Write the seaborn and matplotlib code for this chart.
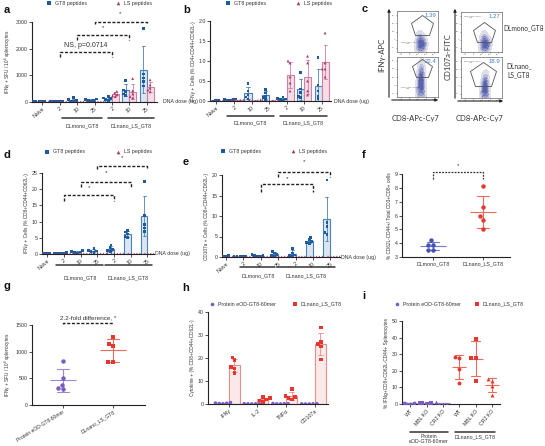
import warnings
import numpy as np
import pandas as pd
import seaborn as sns
import matplotlib.pyplot as plt
from matplotlib.lines import Line2D
from matplotlib.patches import FancyArrowPatch

warnings.filterwarnings("ignore")

# ---------------- data ----------------
dose_keys = ["Naive", "m2", "m10", "m25", "n2", "n10", "n25"]
dose_labels = ["Naive", "2", "10", "25", "2", "10", "25"]
peps = ["GT8 peptides", "LS peptides"]

# a: IFNg SFU / 10^6 splenocytes
a_gt8 = [[10, 20, 15, 5, 25], [20, 30, 15, 25, 10], [160, 90, 60, 40, 30], [110, 90, 70, 50, 40],
         [220, 150, 120, 80, 60], [820, 450, 400, 300, 250], [2750, 1050, 900, 780, 600]]
a_ls = [[5, 10, 0, 8, 12], [5, 3, 8, 2, 6], [10, 5, 3, 8, 6], [5, 3, 10, 2, 8],
        [400, 330, 280, 230, 200], [880, 420, 300, 200, 150], [830, 640, 520, 450, 380]]

# b: IFNg+ % CD4
b_gt8 = [[0.01, 0.0, 0.02, 0.0, 0.01], [0.05, 0.03, 0.02, 0.01, 0.04], [0.44, 0.25, 0.15, 0.1, 0.05],
         [0.28, 0.2, 0.12, 0.08, 0.04], [0.1, 0.07, 0.05, 0.03, 0.02], [0.72, 0.3, 0.22, 0.12, 0.08],
         [1.08, 0.4, 0.25, 0.12, 0.05]]
b_ls = [[0.0, 0.01, 0.0, 0.0, 0.0], [0.04, 0.02, 0.01, 0.0, 0.02], [0.03, 0.02, 0.01, 0.0, 0.0],
        [0.02, 0.01, 0.0, 0.0, 0.0], [1.0, 0.95, 0.6, 0.45, 0.25], [1.12, 0.95, 0.5, 0.25, 0.15],
        [1.7, 0.95, 0.8, 0.6, 0.8]]

# d: IFNg+ % CD8
d_gt8 = [[0.3, 0.2, 0.1, 0.2, 0.1], [0.4, 0.3, 0.2, 0.1, 0.2], [1.0, 0.8, 0.6, 0.4, 0.3],
         [1.6, 1.2, 0.9, 0.7, 0.5], [2.8, 2.0, 1.5, 1.0, 0.8], [7.2, 6.8, 6.2, 5.5, 5.0],
         [22.3, 12.0, 9.0, 8.0, 7.0]]
d_ls = [[0.05, 0.03, 0.02, 0.04, 0.01]] * 7

# e: CD107a+ % CD8
e_gt8 = [[0.4, 0.2, 0.1, 0.1, 0.2], [0.2, 0.1, 0.1, 0.05, 0.1], [0.6, 0.4, 0.3, 0.2, 0.1],
         [1.4, 1.0, 0.6, 0.3, 0.2], [2.1, 1.0, 0.5, 0.3, 0.2], [4.8, 4.2, 3.8, 3.5, 3.3],
         [18.8, 8.5, 7.5, 6.0, 5.5]]
e_ls = [[0.05, 0.03, 0.02, 0.04, 0.01]] * 7

# f: % CD62L-CD44+ / total CD3+CD8+
f_keys = ["DLmono_GT8", "DLnano_LS_GT8"]
f_vals = [[4.2, 3.9, 3.9, 3.5, 3.5], [8.1, 6.6, 5.95, 5.7, 5.05]]

# g: IFNg SFU
g_keys = ["Protein eOD-GT8-60mer", "DLnano_LS_GT8"]
g_vals = [[825, 500, 375, 295, 310], [1280, 1135, 1110, 800, 810]]

# h: cytokine+ % CD8
h_keys = ["IFNγ", "IL-2", "TNFα", "CD107a"]
h_groups = ["Protein eOD-GT8-60mer", "DLnano_LS_GT8"]
h_protein = [[0.6, 0.4, 0.3, 0.2, 0.1], [0.1, 0.05, 0.1, 0.0, 0.05], [0.2, 0.1, 0.1, 0.05, 0.0], [0.1, 0.05, 0.0, 0.0, 0.05]]
h_nano = [[20.3, 19.0, 16.0, 15.5, 13.5], [3.0, 2.5, 2.0, 1.5, 1.0], [6.5, 3.5, 3.0, 2.5, 2.0], [33.2, 27.0, 26.0, 25.0, 19.3]]

# i: % IFNg+ CD8+CD62L-CD44+ splenocytes
i_keys = ["pWT", "pMBL", "pCR2", "nWT", "nMBL", "nCR2"]
i_labels = ["WT", "MBL KO", "CR2 KO"] * 2
i_vals = [[0.6, 0.4, 0.3, 0.2], [0.9, 0.6, 0.4, 0.3], [1.0, 0.3, 0.2, 0.1],
          [28.5, 27.5, 20.9, 12.5], [39.4, 27.9, 27.9, 13.9], [15.1, 14.1, 10.9, 5.6]]

# c: flow cytometry cloud positions (axes fraction) and gate frequencies
c_vals = ["1.39", "22.4", "1.27", "18.9"]
cloud_lo_x = [0.5, 0.54, 0.58, 0.62, 0.66, 0.52, 0.57, 0.63, 0.55, 0.6, 0.53, 0.68, 0.59, 0.64, 0.56, 0.61]
cloud_lo_y = [0.08, 0.12, 0.16, 0.2, 0.14, 0.24, 0.28, 0.1, 0.34, 0.18, 0.2, 0.22, 0.06, 0.26, 0.4, 0.3]
cloud_hi_x = [0.5, 0.54, 0.58, 0.62, 0.66, 0.52, 0.57, 0.63, 0.55, 0.6, 0.58, 0.6, 0.62, 0.57, 0.61, 0.6,
              0.55, 0.64]
cloud_hi_y = [0.08, 0.12, 0.16, 0.2, 0.14, 0.26, 0.3, 0.1, 0.38, 0.46, 0.55, 0.62, 0.7, 0.5, 0.34, 0.22,
              0.6, 0.42]

# ---------------- style ----------------
sns.set_style("ticks")
plt.rcParams["font.family"] = ["Liberation Sans", "DejaVu Sans"]
plt.rcParams["axes.linewidth"] = 0.8
plt.rcParams["axes.edgecolor"] = "#222222"
plt.rcParams["xtick.major.size"] = 2
plt.rcParams["ytick.major.size"] = 2
plt.rcParams["xtick.major.width"] = 0.6
plt.rcParams["ytick.major.width"] = 0.6
plt.rcParams["xtick.major.pad"] = 1
plt.rcParams["ytick.major.pad"] = 1
plt.rcParams["mathtext.default"] = "regular"

GT8_PT, LS_PT = "#1d5a9e", "#a93669"
GT8_FILL, LS_FILL = "#d8e6f4", "#f6dbe6"
GT8_EDGE, LS_EDGE = "#4b80bf", "#d17fa3"
PURPLE, RED = "#7a5cc0", "#e5372f"
TXT = "#333333"
FS = 3.8

W, H = 545, 446
fig = plt.figure(figsize=(W / 100, H / 100), dpi=100)


def rect(l, t, r, b):
    return [l / W, 1 - b / H, (r - l) / W, (b - t) / H]


def ftext(x, y, s, **kw):
    kw.setdefault("fontsize", FS)
    kw.setdefault("color", TXT)
    fig.text(x / W, 1 - y / H, s, **kw)


def fline(x0, x1, y, lw=1.1, color="#333333"):
    fig.add_artist(Line2D([x0 / W, x1 / W], [1 - y / H, 1 - y / H], lw=lw, color=color))


def legend(items, y):
    for x, m, c, label in items:
        fig.add_artist(Line2D([x / W], [1 - y / H], marker=m, color=c, ms=2.6, mew=0, ls="none"))
        ftext(x + 6, y, label, va="center")


def style_axis(ax, ylim, yticks, ylabel, xlim):
    ax.set_ylim(*ylim)
    ax.set_yticks(yticks)
    ax.set_xlim(*xlim)
    ax.set_xlabel("")
    ax.set_ylabel(ylabel, fontsize=3.4, color=TXT, labelpad=2)
    ax.tick_params(labelsize=FS, colors=TXT)
    sns.despine(ax=ax)


def bracket(ax, x0, x1, y, drop, label, ty, lw=1.0, fs=4.5):
    ax.plot([x0, x0, x1, x1], [y - drop, y, y, y - drop], ls=(0, (2.2, 1.2)), color="#222222",
            lw=lw, clip_on=False)
    ax.text((x0 + x1) / 2, ty, label, ha="center", va="center", fontsize=fs, color=TXT, clip_on=False)


def recolor(ax, left_col, right_col):
    # bars / error bars: left hue sits left of the category centre
    for p in ax.patches:
        xc = p.get_x() + p.get_width() / 2
        p.set_edgecolor(left_col if xc < round(xc) else right_col)
    for ln in ax.lines:
        xd = np.asarray(ln.get_xdata(), dtype=float)
        if xd.size == 0 or np.all(np.isnan(xd)):
            continue
        xc = np.nanmean(xd)
        ln.set_color(left_col if xc < round(xc) else right_col)


def dose_frame(gt8, ls):
    rows = []
    for pep, groups in zip(peps, [gt8, ls]):
        for k, vals in zip(dose_keys, groups):
            rows += [(k, pep, v) for v in vals]
    return pd.DataFrame(rows, columns=["cat", "pep", "val"])


def dose_panel(r, gt8, ls, ylim, yticks, ylabel, xlim):
    ax = fig.add_axes(rect(*r))
    df = dose_frame(gt8, ls)
    sns.barplot(data=df, x="cat", y="val", hue="pep", order=dose_keys, hue_order=peps,
                palette=[GT8_FILL, LS_FILL], errorbar="sd", capsize=0.35, width=0.8,
                linewidth=0.8, err_kws={"linewidth": 0.6}, legend=False, ax=ax)
    recolor(ax, GT8_EDGE, LS_EDGE)
    for pep, m, c in zip(peps, ["s", "^"], [GT8_PT, LS_PT]):
        sns.swarmplot(data=df[df.pep == pep], x="cat", y="val", hue="pep", order=dose_keys,
                      hue_order=peps, dodge=True, palette=[c, c], marker=m, size=2.0,
                      linewidth=0, legend=False, ax=ax)
    style_axis(ax, ylim, yticks, ylabel, xlim)
    ax.set_xticks(range(7))
    ax.set_xticklabels(dose_labels, rotation=40, ha="right", rotation_mode="anchor")
    return ax


def dot_panel(ax, keys, vals, colors, line_colors, markers, mean_ms, cap, size):
    df = pd.DataFrame([(k, v) for k, vs in zip(keys, vals) for v in vs], columns=["cat", "val"])
    for k, c, lc, m in zip(keys, colors, line_colors, markers):
        sub = df[df.cat == k]
        sns.pointplot(data=sub, x="cat", y="val", order=keys, errorbar="sd", capsize=cap,
                      color=lc, marker="_", markersize=mean_ms, markeredgewidth=0.8,
                      linestyle="none", err_kws={"linewidth": 0.8}, ax=ax)
        sns.swarmplot(data=sub, x="cat", y="val", order=keys, color=c, marker=m, size=size,
                      linewidth=0, ax=ax)


# ---------------- panel a ----------------
ax = dose_panel((32, 22, 157, 102), a_gt8, a_ls, (0, 3000), [0, 1000, 2000, 3000],
                "IFNγ + SFU / 10$^6$ splenocytes", (-0.6, 6.6))
bracket(ax, 1, 4, 1875, 190, "NS, p=0.0714", 2110, fs=5)
bracket(ax, 2, 5, 2510, 190, "*", 2800)
bracket(ax, 3, 6, 3000, 80, "*", 3330)
legend([(49, "s", GT8_PT, "GT8 peptides"), (118, "^", LS_PT, "LS peptides")], 3)
ftext(163, 102, "DNA dose (ug)", va="center")
fline(62, 102, 118)
fline(108, 154, 118)
ftext(82, 126, "DLmono_GT8", ha="center", va="center")
ftext(131, 126, "DLnano_LS_GT8", ha="center", va="center")

# ---------------- panel b ----------------
ax = dose_panel((210, 21, 331, 101), b_gt8, b_ls, (0, 2), [0, 0.5, 1.0, 1.5, 2.0],
                "IFNγ + Cells (% CD4+CD44+CD62L-)", (-0.37, 6.54))
ax.set_yticklabels(["0.0", "0.5", "1.0", "1.5", "2.0"])
legend([(228, "s", GT8_PT, "GT8 peptides"), (298, "^", LS_PT, "LS peptides")], 3)
ftext(334, 102, "DNA dose (ug)", va="center")
fline(227, 274, 116)
fline(280, 327, 116)
ftext(250, 123, "DLmono_GT8", ha="center", va="center")
ftext(303, 123, "DLnano_LS_GT8", ha="center", va="center")

# ---------------- panel c ----------------
cmap = sns.light_palette("#4c56a8", as_cmap=True)


def flow_box(r, cx, cy, val, pent, pent_ms, gate_txt_pos):
    axc = fig.add_axes(rect(*r))
    sns.kdeplot(x=cx, y=cy, fill=True, cmap=cmap, levels=6, thresh=0.05, bw_adjust=1.5, ax=axc)
    axc.scatter(cx, cy, s=0.5, color="#5a62b0", alpha=0.6, lw=0)
    # gate drawn as an open pentagon marker
    axc.plot([pent[0]], [pent[1]], marker="p", ms=pent_ms, mfc="none", mec="#555555", mew=0.6,
             ls="none")
    axc.text(0.95, 0.94, val, color="#3f7fc4", ha="right", va="top", fontsize=4.3,
             transform=axc.transAxes)
    axc.text(gate_txt_pos[0], gate_txt_pos[1], "CD8+ CD44+ CD62L-\n          100", fontsize=1.4,
             color="#555555", transform=axc.transAxes, va="center")
    axc.set_xlim(0, 1)
    axc.set_ylim(0, 1)
    axc.set_xticks([0.1, 0.3, 0.5, 0.7, 0.9])
    axc.set_yticks([0.1, 0.3, 0.5, 0.7, 0.9])
    axc.set_xticklabels(["-10³", "0", "10³", "10⁴", "10⁵"])
    axc.set_yticklabels(["-10³", "0", "10³", "10⁴", "10⁵"])
    axc.tick_params(labelsize=1.6, length=1, width=0.4, pad=0.5, colors="#555555")
    axc.set_xlabel("")
    axc.set_ylabel("")
    for s in axc.spines.values():
        s.set_linewidth(0.5)
        s.set_color("#666666")


flow_box((397, 11, 438, 52), cloud_lo_x, cloud_lo_y, c_vals[0], (0.6, 0.64), 16, (0.1, 0.22))
flow_box((397, 57, 438, 97), cloud_hi_x, cloud_hi_y, c_vals[1], (0.6, 0.7), 15, (0.1, 0.22))
flow_box((461, 12, 502, 52), cloud_lo_x, cloud_lo_y, c_vals[2], (0.56, 0.47), 16, (0.08, 0.88))
flow_box((461, 57, 502, 98), cloud_hi_x, [v * 0.7 for v in cloud_hi_y], c_vals[3], (0.54, 0.55), 19,
         (0.08, 0.88))

for x0, x1, y0 in [(389, 441, 100), (455, 506, 101)]:
    fig.add_artist(FancyArrowPatch((x0 / W, 1 - y0 / H), (x0 / W, 1 - 6 / H), transform=fig.transFigure,
                                   arrowstyle="-|>", mutation_scale=4, lw=0.8, color="#222222"))
    fig.add_artist(FancyArrowPatch((x0 / W, 1 - y0 / H), (x1 / W, 1 - y0 / H), transform=fig.transFigure,
                                   arrowstyle="-|>", mutation_scale=4, lw=0.8, color="#222222"))
ftext(382, 55, "IFNγ-APC", rotation=90, ha="center", va="center", fontsize=5.5, family=["Lato", "DejaVu Sans"])
ftext(448, 57, "CD107a-FITC", rotation=90, ha="center", va="center", fontsize=5.5, family=["Lato", "DejaVu Sans"])
ftext(415, 118, "CD8-APc-Cy7", ha="center", va="center", fontsize=5.5, family=["Lato", "DejaVu Sans"])
ftext(480, 118, "CD8-APc-Cy7", ha="center", va="center", fontsize=5.5, family=["Lato", "DejaVu Sans"])
ftext(524, 28, "DLmono_GT8", ha="center", va="center", fontsize=4.8, family=["Lato", "DejaVu Sans"])
ftext(519, 70, "DLnano_\nLS_GT8", ha="center", va="center", fontsize=4.8, family=["Lato", "DejaVu Sans"],
      linespacing=1.3)

# ---------------- panel d ----------------
ax = dose_panel((42, 173, 154, 254), d_gt8, d_ls, (0, 25), [0, 5, 10, 15, 20, 25],
                "IFNγ + Cells (% CD8+CD44+CD62L-)", (-0.3, 6.39))
bracket(ax, 1, 4, 18.2, 1.9, "*", 20.6)
bracket(ax, 2, 5, 22.2, 1.5, "*", 25.2)
bracket(ax, 3, 6, 27.2, 0.9, "*", 29.8)
legend([(47, "s", GT8_PT, "GT8 peptides"), (118, "^", LS_PT, "LS peptides")], 152)
ftext(155, 254, "DNA dose (ug)", va="center")
fline(56, 103, 265)
fline(105, 152, 265)
ftext(80, 278, "DLmono_GT8", ha="center", va="center")
ftext(128, 278, "DLnano_LS_GT8", ha="center", va="center")

# ---------------- panel e ----------------
ax = dose_panel((222, 175, 340, 257), e_gt8, e_ls, (0, 20), [0, 5, 10, 15, 20],
                "CD107a + Cells (% CD8+CD44+CD62L-)", (-0.23, 6.55))
bracket(ax, 2, 5, 17.8, 1.9, "*", 19.1)
bracket(ax, 3, 6, 20.7, 1.2, "*", 23.3)
legend([(223, "s", GT8_PT, "GT8 peptides"), (293, "^", LS_PT, "LS peptides")], 151)
ftext(341, 257, "DNA dose (ug)", va="center")
fline(240, 275, 267)
fline(277, 335, 267)
ftext(258, 276, "DLmono_GT8", ha="center", va="center")
ftext(306, 276, "DLnano_LS_GT8", ha="center", va="center")

# ---------------- panel f ----------------
ax = fig.add_axes(rect(402, 174, 510, 257))
dot_panel(ax, f_keys, f_vals, ["#4450b4", RED], ["#6c7bd0", "#ee6a5c"], ["o", "o"], 19, 0.24, 3.2)
style_axis(ax, (3, 9), [3, 4, 5, 6, 7, 8, 9], "% CD62L-CD44+/ Total CD3+CD8+ cells", (-0.62, 1.54))
ax.set_xticks([0, 1])
ax.set_xticklabels(f_keys)
ax.plot([0, 0, 1, 1], [8.64, 9.14, 9.14, 8.64], ls=(0, (1.5, 1.0)), color="#333333", lw=0.9, clip_on=False)
ax.text(0.5, 9.6, "*", ha="center", va="center", fontsize=4.5, color=TXT)

# ---------------- panel g ----------------
ax = fig.add_axes(rect(32, 325, 145, 405))
dot_panel(ax, g_keys, g_vals, [PURPLE, RED], ["#9d87d8", "#ee6a5c"], ["o", "s"], 19, 0.24, 3.2)
style_axis(ax, (0, 1500), [0, 500, 1000, 1500], "IFNγ + SFU / 10$^6$ splenocytes", (-0.62, 1.64))
ax.set_xticks([0, 1])
ax.set_xticklabels(g_keys, rotation=32, ha="right", rotation_mode="anchor", fontsize=3.6)
ax.plot([0, 0, 1, 1], [1510, 1537, 1537, 1510], ls=(0, (2.2, 1.2)), color="#222222", lw=1.0, clip_on=False)
ax.text(0.5, 1640, "2.2-fold difference, *", ha="center", va="center", fontsize=4.6, color=TXT)

# ---------------- panel h ----------------
ax = fig.add_axes(rect(208, 312, 328, 404))
rows = []
for grp, groups in zip(h_groups, [h_protein, h_nano]):
    for k, vals in zip(h_keys, groups):
        rows += [(k, grp, v) for v in vals]
hdf = pd.DataFrame(rows, columns=["cat", "grp", "val"])
sns.barplot(data=hdf, x="cat", y="val", hue="grp", order=h_keys, hue_order=h_groups,
            palette=["#ece6f6", "#fde6e6"], errorbar="sd", capsize=0.35, width=0.75,
            linewidth=0.8, err_kws={"linewidth": 0.6}, legend=False, ax=ax)
recolor(ax, "#b7a6e0", "#f08c88")
for grp, m, c in zip(h_groups, ["o", "s"], [PURPLE, RED]):
    sns.swarmplot(data=hdf[hdf.grp == grp], x="cat", y="val", hue="grp", order=h_keys,
                  hue_order=h_groups, dodge=True, palette=[c, c], marker=m, size=2.6,
                  linewidth=0, legend=False, ax=ax)
style_axis(ax, (0, 40), [0, 10, 20, 30, 40], "Cytokine + (% CD8+CD44+CD62L-)", (-0.72, 3.45))
ax.set_xticks(range(4))
ax.set_xticklabels(h_keys, rotation=40, ha="right", rotation_mode="anchor")
legend([(212, "o", PURPLE, "Protein eOD-GT8-60mer"), (295, "s", RED, "DLnano_LS_GT8")], 304)

# ---------------- panel i ----------------
ax = fig.add_axes(rect(402, 321, 500, 404))
dot_panel(ax, i_keys, i_vals, [PURPLE] * 3 + [RED] * 3, ["#9d87d8"] * 3 + ["#ee6a5c"] * 3,
          ["o", "s", "^"] * 2, 10, 0.5, 2.8)
style_axis(ax, (0, 50), [0, 10, 20, 30, 40, 50], "% IFNg+CD8+CD62L-CD44+ Splenocytes", (-0.5, 5.5))
ax.set_xticks(range(6))
ax.set_xticklabels(i_labels, rotation=50, ha="right", rotation_mode="anchor")
legend([(397, "o", PURPLE, "Protein eOD-GT8-60mer"), (477, "s", RED, "DLnano_LS_GT8")], 304)
fline(410, 448, 432)
fline(455, 495, 432)
ftext(429, 439, "Protein\neOD-GT8-60mer", ha="center", va="center", linespacing=1.1)
ftext(475, 437, "DLnano_LS_GT8", ha="center", va="center")

# ---------------- panel letters ----------------
for lab, x, y in [("a", 4, 10), ("b", 183, 10), ("c", 362, 9), ("d", 4, 155), ("e", 183, 162),
                  ("f", 362, 155), ("g", 4, 286), ("h", 182, 288), ("i", 362, 296)]:
    ftext(x, y, lab, fontsize=8, fontweight="bold", color="#111111", va="center")

fig.savefig("out.png", dpi=100)
